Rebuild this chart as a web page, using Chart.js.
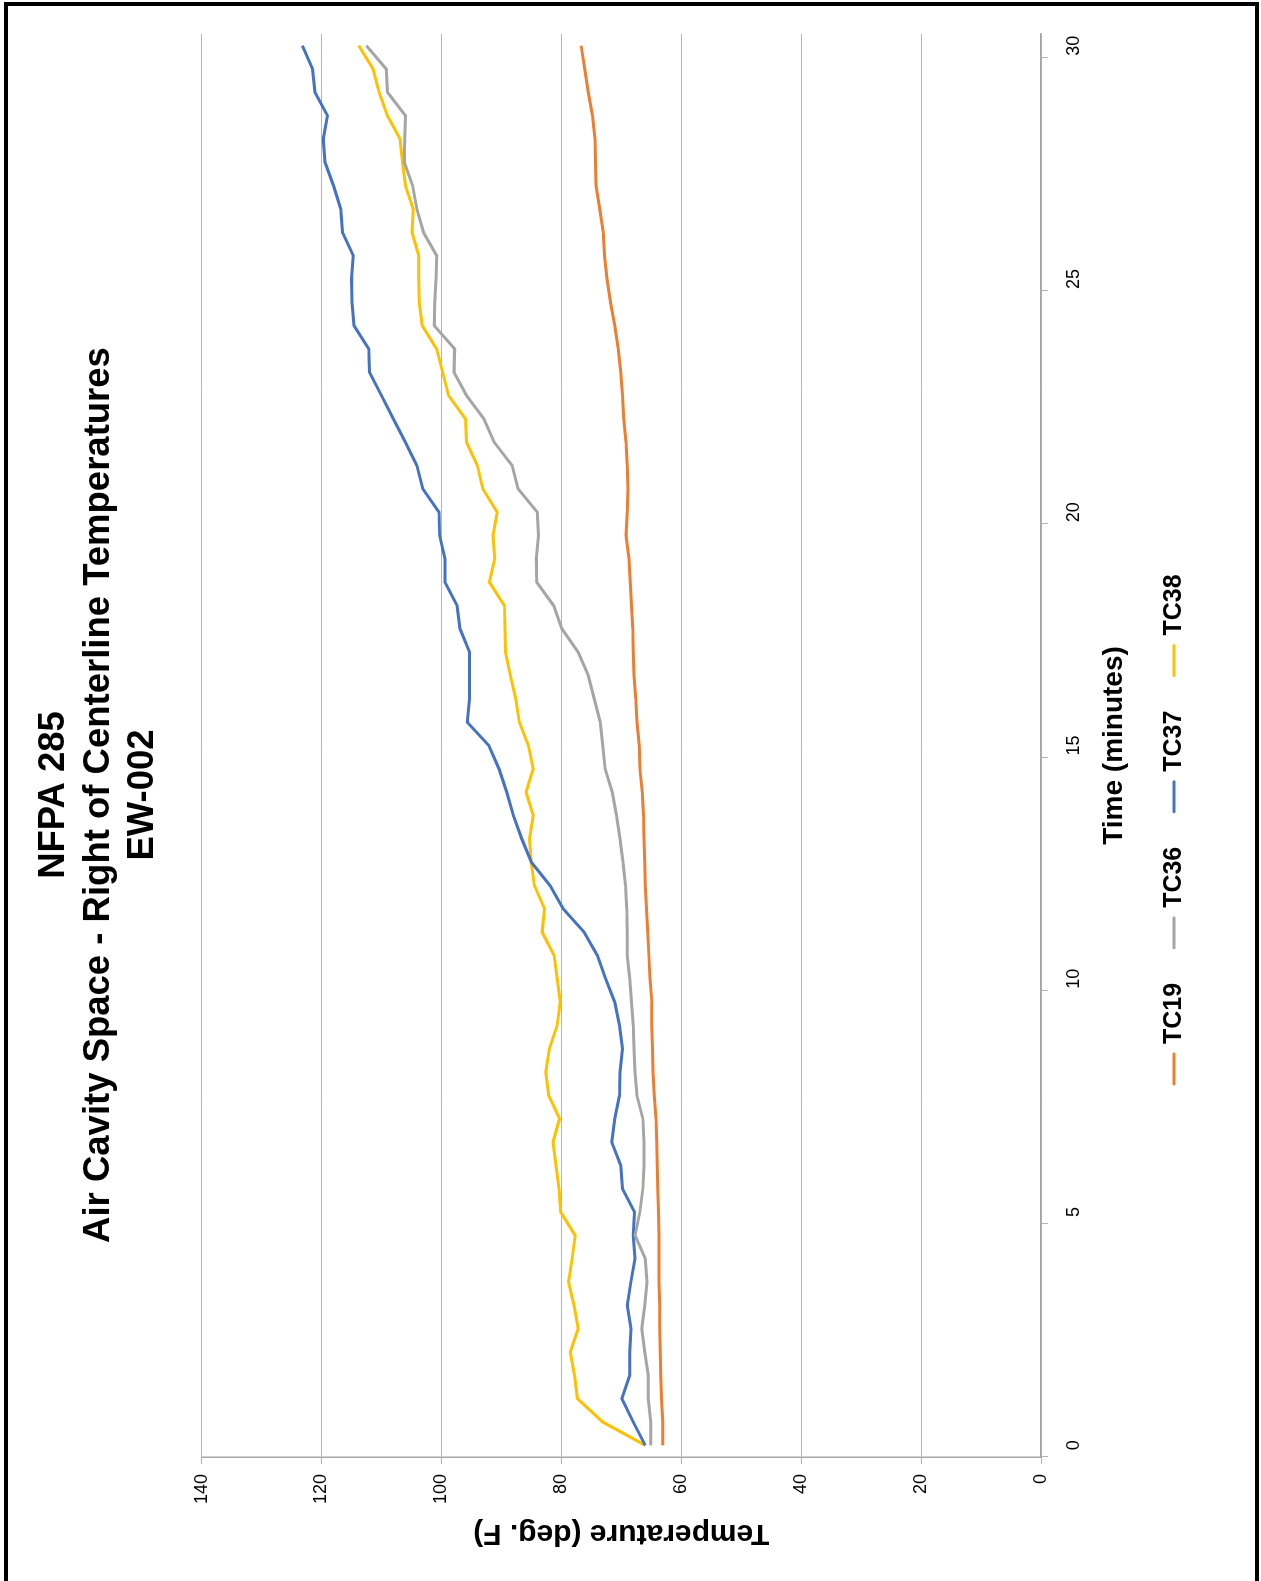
<!DOCTYPE html>
<html>
<head>
<meta charset="utf-8">
<script src="https://cdn.jsdelivr.net/npm/chart.js@4.4.1/dist/chart.umd.min.js"></script>
<style>
  html, body { margin: 0; padding: 0; background: #fff; }
  body { width: 1261px; height: 1581px; overflow: hidden; position: relative; }
  /* chart is drawn landscape, then turned a quarter turn to the left */
  #rot { position: absolute; left: 0; top: 0; width: 1581px; height: 1261px;
         transform-origin: 0 0; transform: translate(0, 1581px) rotate(-90deg); background: #fff; }
  #frame { position: absolute; left: 4px; top: 2px; width: 1255px; height: 1620px;
           border: 4px solid #000; box-sizing: border-box; pointer-events: none; }
</style>
</head>
<body>
<div id="rot"><canvas id="chart" width="1581" height="1261"></canvas></div>
<div id="frame"></div>
<script>
const times = [0, 0.5, 1, 1.5, 2, 2.5, 3, 3.5, 4, 4.5, 5, 5.5, 6, 6.5, 7, 7.5, 8, 8.5, 9, 9.5,
  10, 10.5, 11, 11.5, 12, 12.5, 13, 13.5, 14, 14.5, 15, 15.5, 16, 16.5, 17, 17.5, 18, 18.5, 19, 19.5,
  20, 20.5, 21, 21.5, 22, 22.5, 23, 23.5, 24, 24.5, 25, 25.5, 26, 26.5, 27, 27.5, 28, 28.5, 29, 29.5, 30];

const tc19 = [63.1, 63.1, 63.3, 63.4, 63.5, 63.6, 63.6, 63.7, 63.7, 63.7, 63.8,
  63.9, 64.0, 64.1, 64.2, 64.5, 64.7, 64.8, 64.9, 64.9, 65.2,
  65.4, 65.6, 65.8, 66.0, 66.1, 66.2, 66.3, 66.5, 66.9, 67.0,
  67.4, 67.6, 67.9, 68.0, 68.1, 68.3, 68.5, 68.7, 69.2, 69.0,
  68.9, 69.0, 69.2, 69.6, 69.8, 70.1, 70.5, 71.1, 71.8, 72.4,
  72.8, 73.0, 73.6, 74.2, 74.3, 74.4, 74.8, 75.5, 76.1, 76.7];

const tc36 = [65.1, 65.1, 65.5, 65.5, 66.1, 66.6, 66.1, 65.7, 66.0, 67.7, 66.9,
  66.4, 66.2, 66.2, 66.4, 67.4, 67.7, 67.9, 68.0, 68.3, 68.6,
  69.0, 69.0, 69.1, 69.3, 69.7, 70.2, 70.8, 71.5, 72.7, 73.1,
  73.5, 74.5, 75.5, 77.2, 79.9, 81.3, 84.1, 84.2, 83.8, 84.0,
  87.2, 88.2, 91.2, 92.9, 95.8, 97.9, 97.8, 101.2, 101.1, 100.9,
  100.8, 103.0, 104.1, 104.8, 106.2, 106.1, 106.0, 109.0, 109.2, 112.5];

const tc37 = [66.0, 68.0, 69.9, 68.6, 68.6, 68.4, 69.0, 68.4, 67.7, 68.0, 67.8,
  69.8, 70.1, 71.6, 71.1, 70.3, 70.2, 69.8, 70.3, 71.1, 72.6,
  74.0, 76.2, 79.7, 81.9, 85.0, 86.6, 88.0, 89.1, 90.4, 92.1,
  95.7, 95.3, 95.3, 95.3, 96.9, 97.4, 99.4, 99.4, 100.3, 100.4,
  103.1, 104.1, 106.0, 108.0, 110.0, 112.0, 112.1, 114.6, 114.9, 115.0,
  114.7, 116.5, 116.8, 118.0, 119.4, 119.7, 119.0, 121.1, 121.5, 123.2];

const tc38 = [66.0, 73.1, 77.3, 77.8, 78.5, 77.2, 77.9, 78.8, 78.2, 77.7, 80.1,
  80.4, 80.9, 81.4, 80.3, 82.1, 82.6, 82.0, 80.7, 80.2, 80.7,
  81.2, 83.2, 82.8, 84.5, 85.0, 85.3, 84.7, 85.9, 84.7, 85.5,
  87.0, 87.6, 88.5, 89.3, 89.4, 89.5, 92.0, 91.1, 91.4, 90.7,
  93.1, 94.0, 95.8, 96.0, 98.8, 99.8, 100.8, 103.2, 103.7, 103.8,
  103.8, 104.9, 104.7, 106.0, 106.5, 106.9, 109.0, 110.4, 111.4, 113.8];

const seriesNames = ['TC19', 'TC36', 'TC37', 'TC38'];
const seriesColors = ['#ED7D31', '#A5A5A5', '#4472C4', '#FFC000'];
const titleLines = ['NFPA 285', 'Air Cavity Space - Right of Centerline Temperatures', 'EW-002'];

const FONT = '"Liberation Sans", Arial, sans-serif';
const gridGray = '#b4b4b4';

// legend sits to one side of the plot in the original, so it is drawn by hand
const sideLegend = {
  id: 'sideLegend',
  afterDraw(chart) {
    const ctx = chart.ctx;
    ctx.save();
    ctx.font = 'bold 25px ' + FONT;
    ctx.textBaseline = 'middle';
    ctx.textAlign = 'left';
    let x = 497;
    const y = 1174;
    chart.data.datasets.forEach(ds => {
      ctx.strokeStyle = ds.borderColor;
      ctx.lineWidth = 3;
      ctx.lineCap = 'round';
      ctx.beginPath();
      ctx.moveTo(x, y);
      ctx.lineTo(x + 30, y);
      ctx.stroke();
      ctx.fillStyle = '#000';
      ctx.fillText(ds.label, x + 40, y);
      x += 40 + ctx.measureText(ds.label).width + 35;
    });
    ctx.restore();
  }
};

// title is centred on the whole canvas, not on the padded box
const titleCentre = {
  id: 'titleCentre',
  afterLayout(chart) {
    if (chart.titleBlock) {
      chart.titleBlock.left = 0;
      chart.titleBlock.right = 1572;
    }
  }
};

const whiteBg = {
  id: 'whiteBg',
  beforeDraw(chart) {
    const ctx = chart.ctx;
    ctx.save();
    ctx.fillStyle = '#fff';
    ctx.fillRect(0, 0, chart.width, chart.height);
    ctx.restore();
  }
};

const allSeries = [tc19, tc36, tc37, tc38];

new Chart(document.getElementById('chart').getContext('2d'), {
  type: 'line',
  data: {
    labels: times,
    datasets: allSeries.map((vals, i) => ({
      label: seriesNames[i],
      data: vals,
      borderColor: seriesColors[i],
      backgroundColor: seriesColors[i],
      borderWidth: 3,
      pointRadius: 0,
      tension: 0,
      fill: false
    }))
  },
  options: {
    responsive: false,
    animation: false,
    events: [],
    layout: { padding: { left: 0, right: 34, top: 0, bottom: 120 } },
    plugins: {
      legend: { display: false },
      tooltip: { enabled: false },
      title: {
        display: true,
        text: titleLines,
        color: '#000',
        font: { family: FONT, size: 36.5, weight: 'bold', lineHeight: 1.22 },
        padding: { top: 32, bottom: 36 }
      }
    },
    scales: {
      x: {
        type: 'category',
        offset: true,
        grid: {
          offset: true,
          drawOnChartArea: false,
          drawTicks: true,
          tickLength: 7,
          color: ctx => (ctx.index % 10 === 0 ? gridGray : 'rgba(0,0,0,0)'),
          tickColor: ctx => (ctx.index % 10 === 0 ? gridGray : 'rgba(0,0,0,0)')
        },
        border: { display: true, color: '#a6a6a6', width: 1.5 },
        ticks: {
          autoSkip: false,
          maxRotation: 0,
          minRotation: 0,
          padding: 15,
          color: '#000',
          font: { family: FONT, size: 18 },
          callback: function (value, index) {
            return index % 10 === 0 ? String(this.getLabelForValue(value)) : '';
          }
        },
        title: {
          display: true,
          text: 'Time (minutes)',
          color: '#000',
          font: { family: FONT, size: 28, weight: 'bold', lineHeight: 1.2 },
          padding: { top: 0, bottom: 10 }
        },
        afterFit: scale => { scale.height = 100; }
      },
      y: {
        min: 0,
        max: 140,
        ticks: {
          stepSize: 20,
          padding: 10,
          color: '#000',
          font: { family: FONT, size: 18 }
        },
        grid: { color: gridGray, lineWidth: 1, tickLength: 7, drawTicks: true },
        border: { display: true, color: '#a6a6a6', width: 1.5 },
        title: {
          display: true,
          text: 'Temperature (deg. F)',
          color: '#000',
          font: { family: FONT, size: 30, weight: 'bold', lineHeight: 1.2 },
          padding: { top: 30, bottom: 0 }
        },
        afterFit: scale => { scale.width = 124; }
      }
    }
  },
  plugins: [whiteBg, titleCentre, sideLegend]
});
</script>
</body>
</html>
